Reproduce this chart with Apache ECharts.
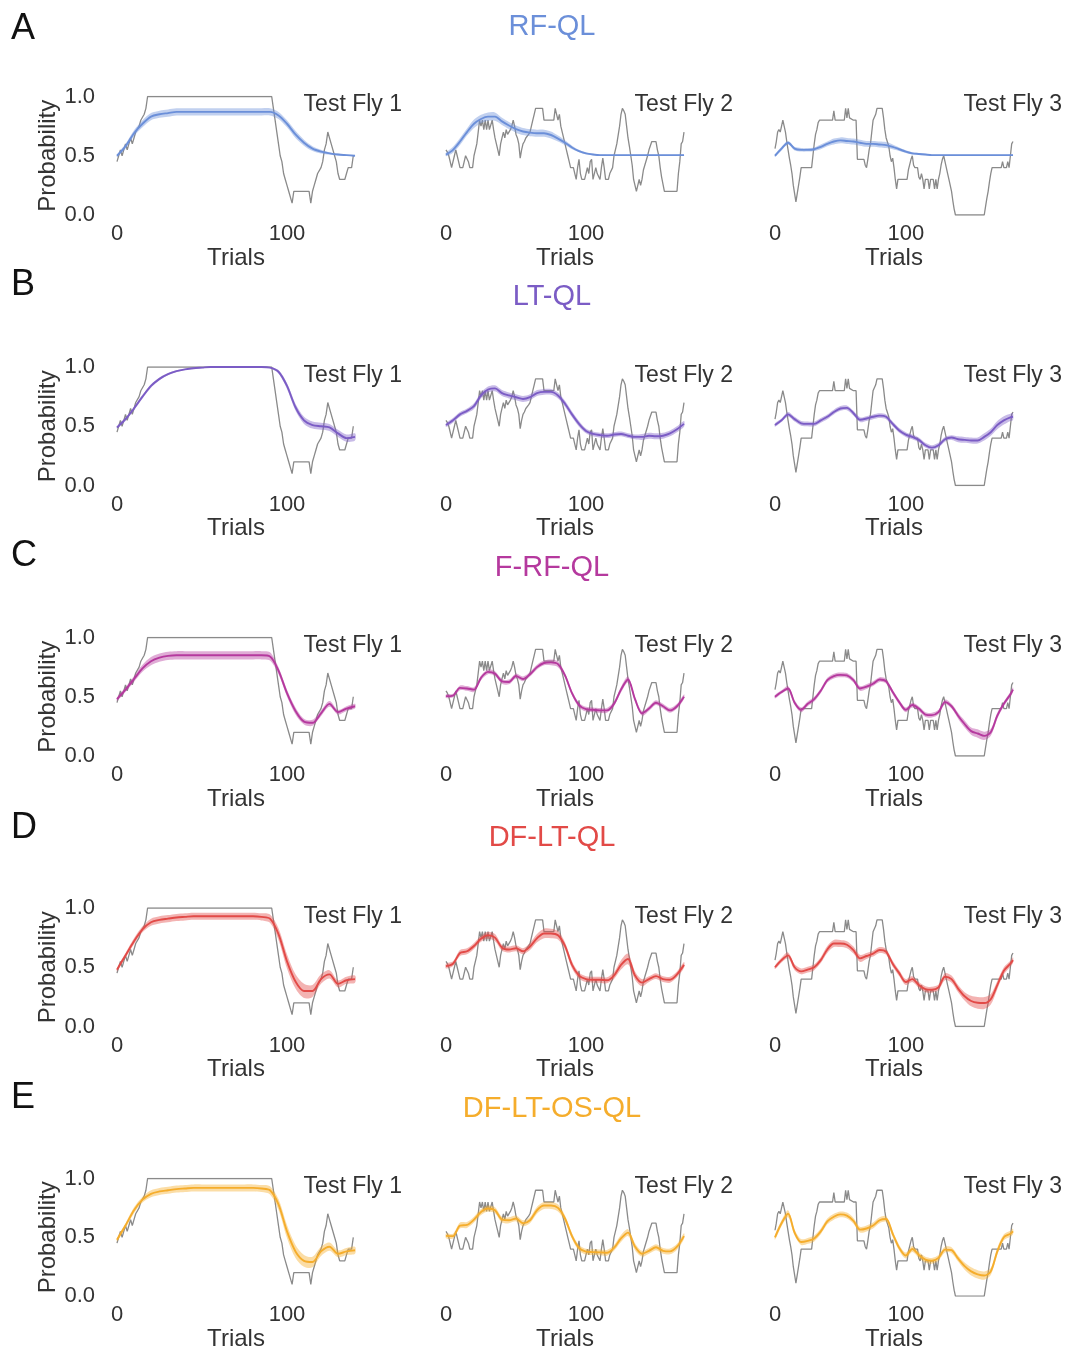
<!DOCTYPE html>
<html>
<head>
<meta charset="utf-8">
<script src="https://cdn.jsdelivr.net/npm/echarts@6/dist/echarts.min.js"></script>
<style>
  html, body { margin: 0; padding: 0; background: #fff; }
  #chart { width: 1068px; height: 1352px; }
</style>
</head>
<body>
<div id="chart"></div>
<script>
// trial positions where the model curves were read
const trialsFly1 = [0,5,10,15,20,25,30,35,40,45,50,55,60,65,70,75,80,85,90,95,100,105,110,115,120,125,130,135,140];
const trialsFly2 = [0,5,10,15,20,25,30,35,40,45,50,55,60,65,70,75,80,85,90,95,100,105,110,115,120,125,130,135,140,145,150,155,160,165,170];
const trialsFly3 = [0,5,10,15,20,25,30,35,40,45,50,55,60,65,70,75,80,85,90,95,100,105,110,115,120,125,130,135,140,145,150,155,160,165,170,175,180,182];

// observed choice probability (grey), [trial, value]
const grayFly1 = [[0,0.45],[1,0.5],[2,0.55],[3,0.5],[4,0.55],[5,0.6],[6,0.55],[7,0.6],[8,0.65],[9,0.6],[10,0.65],[11,0.7],[12,0.7],[13,0.75],[14,0.8],[15,0.8],[16,0.85],[17,0.9],[18,1.0],[91,1.0],[92,0.9],[93,0.8],[94,0.7],[95,0.6],[96,0.5],[97,0.45],[98,0.35],[99,0.3],[100,0.25],[101,0.2],[103,0.1],[104,0.2],[113,0.2],[114,0.1],[115,0.2],[116,0.25],[117,0.3],[118,0.35],[119,0.35],[120,0.4],[121,0.45],[122,0.55],[123,0.6],[124,0.7],[125,0.65],[126,0.6],[127,0.6],[128,0.5],[129,0.45],[130,0.35],[131,0.3],[134,0.3],[135,0.35],[136,0.4],[138,0.4],[139,0.5]];
const grayFly2 = [[0,0.55],[1,0.53],[2,0.5],[4,0.4],[5,0.4],[6,0.5],[7,0.55],[8,0.5],[9,0.45],[10,0.4],[12,0.4],[13,0.45],[14,0.5],[15,0.5],[16,0.45],[17,0.4],[19,0.4],[20,0.5],[22,0.6],[23,0.7],[24,0.8],[25,0.75],[26,0.8],[27,0.72],[28,0.8],[29,0.72],[30,0.8],[31,0.72],[33,0.8],[34,0.72],[35,0.65],[36,0.6],[37,0.55],[38,0.5],[39,0.6],[40,0.65],[41,0.7],[42,0.65],[43,0.72],[44,0.68],[46,0.72],[47,0.75],[48,0.8],[49,0.75],[50,0.68],[51,0.65],[52,0.6],[53,0.48],[54,0.55],[55,0.6],[56,0.62],[57,0.65],[59,0.68],[60,0.7],[61,0.75],[62,0.8],[63,0.85],[64,0.9],[69,0.9],[70,0.8],[77,0.8],[78,0.9],[79,0.85],[80,0.8],[81,0.85],[82,0.75],[84,0.65],[86,0.55],[87,0.5],[88,0.45],[89,0.4],[91,0.4],[92,0.35],[93,0.3],[94,0.4],[95,0.47],[96,0.35],[97,0.3],[99,0.3],[100,0.35],[101,0.4],[102,0.35],[103,0.45],[104,0.47],[105,0.3],[107,0.4],[108,0.35],[110,0.3],[111,0.4],[112,0.48],[113,0.4],[114,0.3],[116,0.3],[117,0.35],[119,0.4],[120,0.5],[122,0.6],[124,0.75],[125,0.85],[126,0.9],[127,0.88],[128,0.85],[129,0.75],[130,0.65],[131,0.58],[132,0.5],[133,0.42],[134,0.3],[135,0.25],[136,0.2],[137,0.25],[138,0.3],[139,0.25],[140,0.3],[141,0.38],[142,0.42],[144,0.5],[145,0.55],[147,0.62],[150,0.62],[151,0.55],[152,0.5],[153,0.4],[154,0.32],[156,0.2],[165,0.2],[166,0.35],[167,0.45],[168,0.6],[169,0.62],[170,0.7]];
const grayFly3 = [[0,0.56],[1,0.62],[2,0.7],[3,0.72],[4,0.7],[5,0.75],[6,0.8],[7,0.75],[8,0.7],[9,0.62],[10,0.55],[11,0.48],[12,0.42],[13,0.35],[14,0.25],[15,0.18],[16,0.11],[17,0.18],[18,0.25],[19,0.32],[20,0.4],[28,0.4],[29,0.5],[30,0.6],[31,0.68],[32,0.72],[33,0.78],[34,0.8],[44,0.8],[45,0.88],[46,0.8],[53,0.8],[54,0.9],[55,0.82],[56,0.9],[57,0.82],[60,0.8],[62,0.8],[63,0.47],[68,0.47],[69,0.42],[70,0.4],[71,0.47],[72,0.55],[73,0.6],[74,0.7],[75,0.8],[77,0.85],[78,0.9],[82,0.9],[83,0.82],[84,0.72],[85,0.65],[87,0.58],[88,0.5],[89,0.45],[90,0.48],[91,0.4],[92,0.3],[93,0.22],[94,0.3],[101,0.3],[102,0.38],[104,0.47],[105,0.5],[106,0.42],[107,0.4],[109,0.4],[110,0.32],[111,0.3],[112,0.35],[113,0.3],[114,0.22],[115,0.3],[117,0.3],[118,0.22],[119,0.3],[121,0.3],[122,0.22],[123,0.3],[124,0.22],[125,0.3],[126,0.35],[127,0.42],[128,0.47],[129,0.5],[130,0.45],[131,0.4],[132,0.35],[133,0.3],[135,0.2],[136,0.12],[137,0.05],[138,0.0],[160,0.0],[161,0.07],[162,0.14],[163,0.2],[164,0.28],[165,0.35],[166,0.4],[173,0.4],[174,0.45],[175,0.4],[177,0.4],[178,0.45],[179,0.4],[180,0.5],[181,0.6],[182,0.62]];

// RF-QL
const rfqlFly1 = [0.50,0.58,0.69,0.77,0.83,0.85,0.86,0.87,0.87,0.87,0.87,0.87,0.87,0.87,0.87,0.87,0.87,0.87,0.87,0.84,0.77,0.68,0.61,0.56,0.535,0.52,0.51,0.505,0.50];
const rfqlFly2 = [0.51,0.55,0.62,0.70,0.77,0.81,0.83,0.83,0.79,0.755,0.725,0.705,0.695,0.69,0.69,0.675,0.645,0.61,0.57,0.54,0.52,0.51,0.505,0.505,0.505,0.505,0.505,0.505,0.505,0.505,0.505,0.505,0.505,0.505,0.505];
const rfqlFly3 = [0.50,0.56,0.61,0.56,0.55,0.55,0.555,0.575,0.60,0.62,0.63,0.625,0.62,0.61,0.60,0.60,0.595,0.59,0.575,0.555,0.535,0.52,0.515,0.51,0.505,0.505,0.505,0.505,0.505,0.505,0.505,0.505,0.505,0.505,0.505,0.505,0.505,0.505];
const rfqlBand1 = [0.01,0.02,0.025,0.03,0.03,0.03,0.03,0.03,0.03,0.03,0.03,0.03,0.03,0.03,0.03,0.03,0.03,0.03,0.03,0.03,0.03,0.03,0.025,0.02,0.015,0.01,0.008,0.006,0.005];
const rfqlBand2 = [0.015,0.025,0.03,0.03,0.035,0.035,0.035,0.035,0.03,0.03,0.03,0.03,0.03,0.03,0.03,0.03,0.025,0.02,0.015,0.01,0.008,0.006,0.005,0.004,0.004,0.004,0.004,0.004,0.004,0.004,0.004,0.004,0.004,0.004,0.004];
const rfqlBand3 = [0.01,0.015,0.015,0.015,0.015,0.015,0.015,0.02,0.02,0.025,0.025,0.025,0.025,0.025,0.025,0.025,0.025,0.025,0.02,0.015,0.012,0.01,0.008,0.006,0.004,0.004,0.004,0.004,0.004,0.004,0.004,0.004,0.004,0.004,0.004,0.004,0.004,0.004];

// LT-QL
const ltqlFly1 = [0.49,0.56,0.65,0.75,0.84,0.90,0.94,0.965,0.98,0.99,0.995,1.0,1.0,1.0,1.0,1.0,1.0,1.0,0.995,0.96,0.84,0.66,0.55,0.51,0.50,0.49,0.44,0.40,0.41];
const ltqlFly2 = [0.51,0.55,0.60,0.63,0.67,0.76,0.81,0.82,0.78,0.76,0.745,0.73,0.745,0.78,0.79,0.79,0.76,0.69,0.60,0.52,0.46,0.435,0.425,0.42,0.43,0.435,0.42,0.41,0.41,0.42,0.415,0.42,0.44,0.475,0.52];
const ltqlFly3 = [0.51,0.55,0.60,0.56,0.525,0.52,0.52,0.55,0.58,0.62,0.65,0.655,0.61,0.555,0.565,0.58,0.59,0.58,0.52,0.465,0.43,0.41,0.385,0.34,0.32,0.34,0.39,0.405,0.39,0.385,0.38,0.38,0.41,0.45,0.51,0.55,0.575,0.58];
const ltqlBand1 = [0.01,0.015,0.015,0.015,0.015,0.012,0.01,0.008,0.006,0.005,0.005,0.005,0.005,0.005,0.005,0.005,0.005,0.005,0.006,0.015,0.025,0.03,0.03,0.03,0.03,0.03,0.03,0.03,0.03];
const ltqlBand2 = [0.015,0.02,0.02,0.02,0.025,0.025,0.025,0.025,0.025,0.025,0.025,0.025,0.025,0.025,0.025,0.025,0.025,0.025,0.025,0.025,0.02,0.02,0.02,0.02,0.02,0.02,0.02,0.02,0.025,0.025,0.025,0.025,0.025,0.025,0.025];
const ltqlBand3 = [0.015,0.015,0.02,0.02,0.02,0.02,0.02,0.02,0.02,0.02,0.02,0.02,0.02,0.02,0.02,0.02,0.02,0.02,0.02,0.02,0.02,0.02,0.02,0.02,0.02,0.02,0.02,0.02,0.025,0.025,0.025,0.025,0.03,0.03,0.035,0.035,0.03,0.03];

// F-RF-QL
const frfqlFly1 = [0.48,0.56,0.65,0.74,0.80,0.83,0.845,0.85,0.85,0.85,0.85,0.85,0.85,0.85,0.85,0.85,0.85,0.85,0.84,0.72,0.53,0.38,0.29,0.28,0.36,0.44,0.37,0.40,0.42];
const frfqlFly2 = [0.505,0.51,0.575,0.57,0.56,0.66,0.71,0.695,0.63,0.625,0.675,0.65,0.69,0.75,0.785,0.79,0.775,0.68,0.53,0.43,0.395,0.39,0.385,0.385,0.44,0.56,0.645,0.48,0.36,0.40,0.45,0.42,0.385,0.42,0.50];
const frfqlFly3 = [0.50,0.54,0.57,0.45,0.39,0.44,0.48,0.55,0.64,0.675,0.685,0.68,0.64,0.57,0.585,0.61,0.645,0.63,0.54,0.455,0.39,0.43,0.40,0.35,0.345,0.37,0.455,0.42,0.34,0.27,0.21,0.19,0.17,0.20,0.34,0.44,0.52,0.56];
const frfqlBand1 = [0.015,0.02,0.025,0.03,0.035,0.035,0.035,0.035,0.035,0.035,0.035,0.035,0.035,0.035,0.035,0.035,0.035,0.035,0.035,0.03,0.03,0.03,0.025,0.025,0.025,0.025,0.02,0.02,0.02];
const frfqlBand2 = [0.015,0.015,0.02,0.02,0.02,0.02,0.02,0.02,0.02,0.02,0.02,0.02,0.02,0.02,0.02,0.025,0.025,0.02,0.02,0.02,0.02,0.02,0.02,0.02,0.02,0.025,0.025,0.02,0.02,0.02,0.02,0.02,0.02,0.02,0.02];
const frfqlBand3 = [0.015,0.015,0.02,0.02,0.02,0.02,0.02,0.02,0.02,0.02,0.02,0.02,0.02,0.02,0.02,0.02,0.02,0.02,0.02,0.02,0.02,0.02,0.02,0.02,0.02,0.02,0.02,0.02,0.025,0.03,0.03,0.035,0.035,0.03,0.025,0.02,0.02,0.02];

// DF-LT-QL
const dfltFly1 = [0.48,0.60,0.72,0.82,0.88,0.90,0.91,0.92,0.925,0.93,0.93,0.93,0.93,0.93,0.93,0.93,0.93,0.925,0.91,0.78,0.55,0.38,0.30,0.30,0.40,0.44,0.36,0.39,0.40];
const dfltFly2 = [0.51,0.53,0.62,0.635,0.68,0.74,0.77,0.75,0.665,0.65,0.66,0.635,0.675,0.745,0.785,0.785,0.77,0.68,0.52,0.43,0.40,0.395,0.395,0.39,0.43,0.52,0.57,0.43,0.37,0.40,0.425,0.40,0.395,0.44,0.52];
const dfltFly3 = [0.50,0.56,0.60,0.50,0.465,0.48,0.50,0.56,0.65,0.70,0.70,0.69,0.645,0.575,0.595,0.615,0.645,0.63,0.53,0.45,0.375,0.40,0.35,0.315,0.31,0.33,0.42,0.40,0.32,0.255,0.215,0.20,0.198,0.23,0.35,0.47,0.53,0.56];
const dfltBand1 = [0.015,0.02,0.025,0.025,0.03,0.03,0.03,0.03,0.03,0.03,0.03,0.03,0.03,0.03,0.03,0.03,0.03,0.03,0.035,0.05,0.06,0.06,0.06,0.05,0.04,0.035,0.03,0.03,0.03];
const dfltBand2 = [0.02,0.02,0.025,0.025,0.025,0.025,0.03,0.03,0.025,0.025,0.025,0.025,0.03,0.035,0.04,0.04,0.035,0.03,0.03,0.025,0.025,0.025,0.025,0.025,0.03,0.04,0.045,0.035,0.03,0.025,0.025,0.025,0.025,0.025,0.025];
const dfltBand3 = [0.015,0.02,0.025,0.025,0.025,0.025,0.025,0.025,0.03,0.03,0.03,0.03,0.03,0.03,0.025,0.025,0.025,0.025,0.025,0.025,0.025,0.025,0.025,0.025,0.025,0.025,0.03,0.03,0.03,0.035,0.045,0.05,0.05,0.045,0.035,0.03,0.025,0.025];

// DF-LT-OS-QL
const dfltosFly1 = [0.48,0.60,0.73,0.82,0.87,0.89,0.90,0.91,0.915,0.92,0.92,0.92,0.92,0.92,0.92,0.92,0.92,0.915,0.90,0.78,0.55,0.38,0.30,0.29,0.38,0.42,0.36,0.38,0.39];
const dfltosFly2 = [0.512,0.51,0.60,0.605,0.65,0.715,0.745,0.73,0.65,0.645,0.66,0.62,0.645,0.73,0.77,0.77,0.75,0.66,0.51,0.41,0.378,0.374,0.372,0.368,0.41,0.49,0.54,0.42,0.36,0.385,0.415,0.385,0.38,0.42,0.51];
const dfltosFly3 = [0.50,0.62,0.70,0.54,0.46,0.47,0.49,0.55,0.635,0.675,0.695,0.685,0.64,0.565,0.575,0.60,0.645,0.655,0.53,0.41,0.345,0.40,0.35,0.31,0.30,0.325,0.395,0.39,0.32,0.255,0.21,0.185,0.175,0.21,0.38,0.50,0.53,0.55];
const dfltosBand1 = [0.015,0.02,0.025,0.025,0.03,0.03,0.03,0.03,0.03,0.03,0.03,0.03,0.03,0.03,0.03,0.03,0.03,0.03,0.035,0.045,0.055,0.055,0.05,0.045,0.04,0.035,0.03,0.03,0.03];
const dfltosBand2 = [0.02,0.02,0.025,0.025,0.025,0.025,0.025,0.025,0.025,0.025,0.025,0.025,0.025,0.03,0.03,0.03,0.03,0.025,0.025,0.025,0.025,0.025,0.025,0.025,0.025,0.03,0.03,0.03,0.025,0.025,0.025,0.025,0.025,0.025,0.025];
const dfltosBand3 = [0.02,0.025,0.03,0.025,0.025,0.025,0.025,0.025,0.025,0.025,0.025,0.025,0.025,0.025,0.025,0.025,0.025,0.025,0.025,0.025,0.025,0.025,0.025,0.025,0.025,0.025,0.025,0.025,0.025,0.03,0.035,0.035,0.035,0.03,0.03,0.025,0.025,0.025];

const modelNames = ['RF-QL', 'LT-QL', 'F-RF-QL', 'DF-LT-QL', 'DF-LT-OS-QL'];
const modelColors = ['#6b8fd9', '#7b5cc5', '#b5399e', '#e24a47', '#f5ad2c'];
const panelLetters = ['A', 'B', 'C', 'D', 'E'];
const flyLabels = ['Test Fly 1', 'Test Fly 2', 'Test Fly 3'];
const flyMax = [140, 170, 182];

const modelMeans = [
  [rfqlFly1, rfqlFly2, rfqlFly3],
  [ltqlFly1, ltqlFly2, ltqlFly3],
  [frfqlFly1, frfqlFly2, frfqlFly3],
  [dfltFly1, dfltFly2, dfltFly3],
  [dfltosFly1, dfltosFly2, dfltosFly3]
];
const modelBands = [
  [rfqlBand1, rfqlBand2, rfqlBand3],
  [ltqlBand1, ltqlBand2, ltqlBand3],
  [frfqlBand1, frfqlBand2, frfqlBand3],
  [dfltBand1, dfltBand2, dfltBand3],
  [dfltosBand1, dfltosBand2, dfltosBand3]
];
const flyTrials = [trialsFly1, trialsFly2, trialsFly3];
const flyGray = [grayFly1, grayFly2, grayFly3];

// layout
const colLeft = [117, 446, 775];
const rowTop = [96.5, 367, 637.5, 908, 1178.5];
const plotW = 238;
const plotH = 118.5;
const letterY = [29, 285, 556, 828, 1098];
const titleY = [27, 297, 568, 838, 1109];
const labelRight = [402, 733, 1062];
const font = '"Liberation Sans", Arial, Helvetica, sans-serif';
const textColor = '#333';

const chart = echarts.init(document.getElementById('chart'));

const grids = [];
const xAxes = [];
const yAxes = [];
const series = [];
const graphics = [];

// shaded band between mean - band and mean + band
function bandSeries(g, trials, mean, band, color) {
  return {
    type: 'custom',
    xAxisIndex: g,
    yAxisIndex: g,
    silent: true,
    z: 2,
    data: [[trials[0], mean[0]]],
    renderItem: function (params, api) {
      const upper = trials.map((t, i) => api.coord([t, mean[i] + band[i]]));
      const lower = trials.map((t, i) => api.coord([t, mean[i] - band[i]])).reverse();
      return {
        type: 'polygon',
        shape: { points: upper.concat(lower), smooth: 0.3 },
        style: { fill: color, opacity: 0.42 }
      };
    }
  };
}

for (let r = 0; r < 5; r++) {
  const color = modelColors[r];
  for (let c = 0; c < 3; c++) {
    const g = r * 3 + c;
    grids.push({ left: colLeft[c], top: rowTop[r], width: plotW, height: plotH });
    xAxes.push({
      gridIndex: g,
      type: 'value',
      min: 0,
      max: flyMax[c],
      interval: 100,
      name: 'Trials',
      nameLocation: 'middle',
      nameGap: 29,
      nameTextStyle: { fontFamily: font, fontSize: 24, color: textColor },
      axisLine: { show: false },
      axisTick: { show: false },
      splitLine: { show: false },
      axisLabel: {
        margin: 8,
        fontFamily: font,
        fontSize: 22,
        color: textColor,
        showMaxLabel: false,
        formatter: v => (v === 0 || v === 100) ? String(v) : ''
      }
    });
    yAxes.push({
      gridIndex: g,
      type: 'value',
      min: 0,
      max: 1,
      interval: 0.5,
      name: c === 0 ? 'Probability' : '',
      nameLocation: 'middle',
      nameGap: 57,
      nameTextStyle: { fontFamily: font, fontSize: 24, color: textColor },
      axisLine: { show: false },
      axisTick: { show: false },
      splitLine: { show: false },
      axisLabel: {
        show: c === 0,
        margin: 22,
        fontFamily: font,
        fontSize: 22,
        color: textColor,
        formatter: v => v.toFixed(1)
      }
    });

    const trials = flyTrials[c];
    const mean = modelMeans[r][c];
    const band = modelBands[r][c];

    series.push({
      type: 'line',
      xAxisIndex: g,
      yAxisIndex: g,
      data: flyGray[c],
      showSymbol: false,
      silent: true,
      z: 1,
      lineStyle: { color: '#8a8a8a', width: 1.3 }
    });
    series.push(bandSeries(g, trials, mean, band, color));
    series.push({
      type: 'line',
      xAxisIndex: g,
      yAxisIndex: g,
      data: trials.map((t, i) => [t, mean[i]]),
      showSymbol: false,
      silent: true,
      smooth: 0.3,
      z: 3,
      lineStyle: { color: color, width: 1.9 }
    });

    graphics.push({
      type: 'text',
      x: labelRight[c],
      y: rowTop[r] + 8.5,
      style: {
        text: flyLabels[c],
        align: 'right',
        verticalAlign: 'middle',
        font: '23px ' + font,
        fill: textColor
      }
    });
  }

  graphics.push({
    type: 'text',
    x: 11,
    y: letterY[r],
    style: { text: panelLetters[r], font: '36px ' + font, fill: '#111', verticalAlign: 'middle' }
  });
  graphics.push({
    type: 'text',
    x: 552,
    y: titleY[r],
    style: { text: modelNames[r], font: '29px ' + font, fill: color, align: 'center', verticalAlign: 'middle' }
  });
}

chart.setOption({
  backgroundColor: '#fff',
  animation: false,
  grid: grids,
  xAxis: xAxes,
  yAxis: yAxes,
  series: series,
  graphic: graphics
});
</script>
</body>
</html>
